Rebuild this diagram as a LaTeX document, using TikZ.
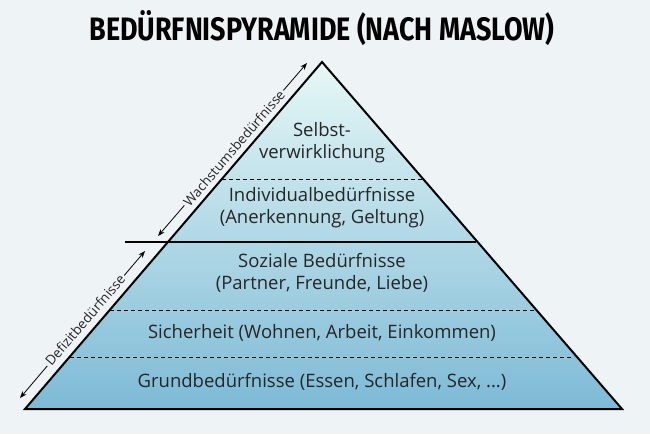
\documentclass[tikz,border=0pt]{standalone}
\usepackage{fontspec}
\setmainfont{Open Sans}
\newfontfamily\titlefont{Fira Sans}
\usetikzlibrary{arrows.meta}
\definecolor{bg}{HTML}{EEF3F6}
\definecolor{topc}{HTML}{E6F8F6}
\definecolor{botc}{HTML}{7DBAD6}
\tikzset{x=1pt,y=-1pt,
  lbl/.style={font=\fontsize{18.5}{22}\selectfont, align=center, text=black!85},
  side/.style={font=\fontsize{13.5}{15}\selectfont, text=black!85, rotate=49.4},
  sep/.style={dashed, line width=0.9pt, dash pattern=on 4pt off 3pt},
  dbl/.style={{Stealth[length=7pt]}-{Stealth[length=7pt]}, line width=0.8pt}}
\begin{document}
\begin{tikzpicture}
\fill[bg] (0,0) rectangle (650,434);
\useasboundingbox (0,0) rectangle (650,434);
\coordinate (A) at (322,62);
\coordinate (L) at (25,409);
\coordinate (R) at (622,409);
\begin{scope}
\clip (A) -- (L) -- (R) -- cycle;
\shade[top color=topc, bottom color=botc] (0,62) rectangle (650,409);
\end{scope}
% separators
\draw[line width=1.3pt] (125,242) -- (476,242);
\draw[sep] (222,179) -- (422,179);
\draw[sep] (110,310) -- (534,310);
\draw[sep] (70,357) -- (574,357);
\draw[line width=2pt, line join=miter] (A) -- (L) -- (R) -- cycle;
% texts
\node[lbl] (t1) at (322,143) {Selbst-\\verwirklichung};
\node[lbl] (t2) at (322,208) {Individualbedürfnisse\\(Anerkennung, Geltung)};
\node[lbl] (t3) at (322,273) {Soziale Bedürfnisse\\(Partner, Freunde, Liebe)};
\node[lbl] (t4) at (322,333) {Sicherheit (Wohnen, Arbeit, Einkommen)};
\node[lbl] (t5) at (322,382) {Grundbedürfnisse (Essen, Schlafen, Sex, ...)};
\node (title) at (322,28) {\resizebox{465pt}{30pt}{\titlefont\bfseries BEDÜRFNISPYRAMIDE (NACH MASLOW)}};
% side arrows
\coordinate (w1) at (158,236);
\coordinate (w2) at (307,63);
\coordinate (d1) at (145,251);
\coordinate (d2) at (20,398);
\draw[dbl] (w1) -- (w2);
\draw[dbl] (d1) -- (d2);
\node[side, fill=bg, inner sep=2pt] (wl) at (234,148) {Wachstumsbedürfnisse};
\node[side, fill=bg, inner sep=2pt] (dl) at (85,320) {Defizitbedürfnisse};
\end{tikzpicture}
\end{document}
